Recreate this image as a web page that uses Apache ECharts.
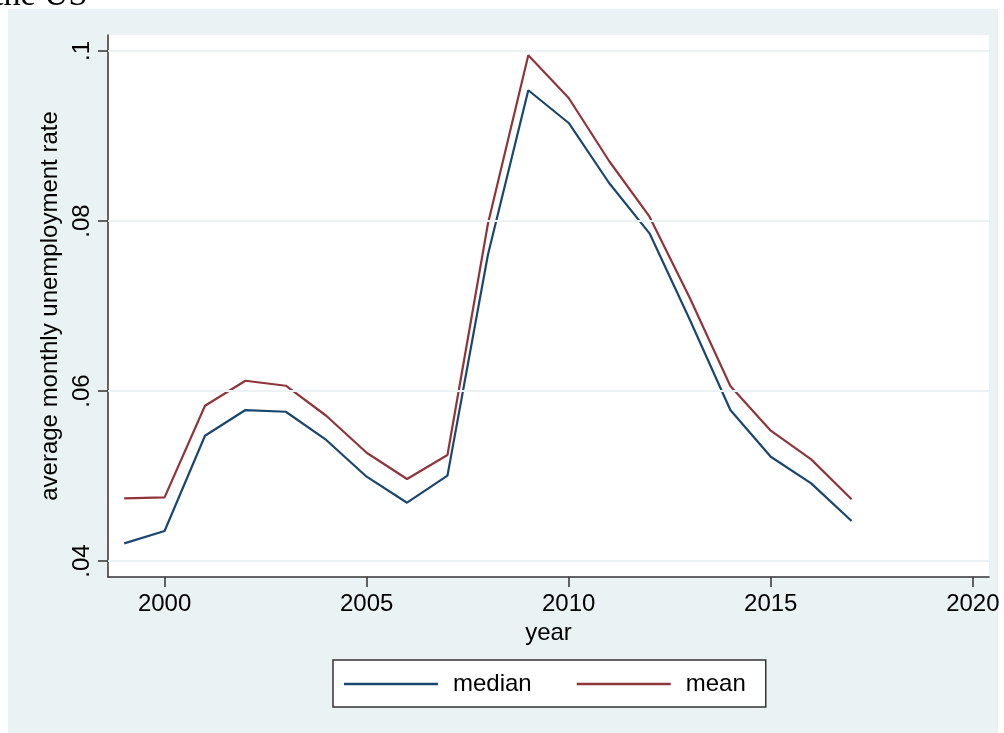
<!DOCTYPE html>
<html>
<head>
<meta charset="utf-8">
<script src="https://cdn.jsdelivr.net/npm/echarts@6/dist/echarts.min.js"></script>
<style>
html, body { margin: 0; padding: 0; background: #ffffff; }
#chart { width: 1004px; height: 733px; }
</style>
</head>
<body>
<div id="chart"></div>
<script>
// Data
const years = [1999, 2000, 2001, 2002, 2003, 2004, 2005, 2006, 2007, 2008, 2009, 2010, 2011, 2012, 2013, 2014, 2015, 2016, 2017];
const medianRate = [0.04208, 0.04353, 0.05474, 0.05776, 0.05756, 0.05424, 0.04992, 0.04686, 0.05004, 0.0760, 0.09538, 0.09153, 0.08447, 0.07855, 0.06835, 0.05776, 0.05227, 0.04914, 0.04470];
const meanRate = [0.04738, 0.04749, 0.05827, 0.06121, 0.06062, 0.05709, 0.05274, 0.04965, 0.05247, 0.07965, 0.09949, 0.09447, 0.08706, 0.08051, 0.07091, 0.06059, 0.05533, 0.05196, 0.04726];
const xTickValues = [2000, 2005, 2010, 2015, 2020];
const yTickValues = [0.04, 0.06, 0.08, 0.1];
const yTickLabels = ['.04', '.06', '.08', '.1'];
const seriesNames = ['median', 'mean'];
const yTitle = 'average monthly unemployment rate';
const xTitle = 'year';
const topText = 'the US';

const FONT = '"Liberation Sans", Arial, Helvetica, sans-serif';
const AXIS_COLOR = '#333333';
const chart = echarts.init(document.getElementById('chart'), null, { renderer: 'canvas' });

const pair = (xs, ys) => xs.map((x, i) => [x, ys[i]]);

chart.setOption({
  backgroundColor: '#ffffff',
  animation: false,
  textStyle: { fontFamily: FONT },
  graphic: [
    { type: 'rect', z: -10, silent: true, shape: { x: 8, y: 9, width: 990, height: 724 }, style: { fill: '#eaf2f3' } },
    { type: 'text', z: 10, silent: true, x: -6, y: 13, style: { text: topText, font: '34px "Liberation Serif", "Times New Roman", serif', fill: '#000000', verticalAlign: 'bottom', align: 'left' } }
  ],
  grid: { left: 108, right: 15, top: 35, bottom: 156, show: true, backgroundColor: '#ffffff', borderWidth: 0 },
  legend: {
    data: seriesNames,
    left: 333, top: 660,
    padding: [12, 20, 11, 11],
    backgroundColor: '#ffffff',
    borderColor: '#333333', borderWidth: 1.5, borderRadius: 0,
    icon: 'rect', itemWidth: 94, itemHeight: 2.5,
    itemGap: 45,
    textStyle: { fontSize: 24, color: '#000000', fontFamily: FONT, padding: [0, 0, 0, 10] }
  },
  xAxis: {
    type: 'value', min: 1998.6, max: 2020.4,
    name: xTitle, nameLocation: 'middle', nameGap: 44,
    nameTextStyle: { fontSize: 24, color: '#000000', fontFamily: FONT },
    axisLine: { show: true, lineStyle: { color: AXIS_COLOR, width: 1.5 } },
    axisTick: { show: true, length: 10, customValues: xTickValues, lineStyle: { color: AXIS_COLOR, width: 1.5 } },
    axisLabel: { customValues: xTickValues, fontSize: 24, color: '#000000', margin: 15, fontFamily: FONT, formatter: v => String(Math.round(v)) },
    splitLine: { show: false }
  },
  yAxis: {
    type: 'value', min: 0.03812, max: 0.10188,
    name: yTitle, nameLocation: 'middle', nameGap: 44, nameRotate: 90,
    nameTextStyle: { fontSize: 24, color: '#000000', fontFamily: FONT },
    axisLine: { show: true, lineStyle: { color: AXIS_COLOR, width: 1.5 } },
    axisTick: { show: true, length: 10, customValues: yTickValues, lineStyle: { color: AXIS_COLOR, width: 1.5 } },
    axisLabel: {
      customValues: yTickValues, rotate: 90, fontSize: 24, color: '#000000', margin: 14, fontFamily: FONT,
      formatter: v => { const i = yTickValues.findIndex(t => Math.abs(t - v) < 1e-9); return i >= 0 ? yTickLabels[i] : ''; }
    },
    splitLine: { show: false }
  },
  series: [
    {
      name: '_grid', type: 'line', data: [], z: 1, silent: true,
      markLine: {
        silent: true, symbol: ['none', 'none'], label: { show: false },
        lineStyle: { color: '#eaf2f3', width: 2, type: 'solid' },
        emphasis: { disabled: true },
        data: yTickValues.map(v => ({ yAxis: v }))
      }
    },
    {
      name: seriesNames[0], type: 'line', data: pair(years, medianRate), z: 3,
      showSymbol: false, symbol: 'none',
      lineStyle: { color: '#1a476f', width: 2.2 }, itemStyle: { color: '#1a476f' }
    },
    {
      name: seriesNames[1], type: 'line', data: pair(years, meanRate), z: 3,
      showSymbol: false, symbol: 'none',
      lineStyle: { color: '#90353b', width: 2.2 }, itemStyle: { color: '#90353b' }
    }
  ]
});
</script>
</body>
</html>
